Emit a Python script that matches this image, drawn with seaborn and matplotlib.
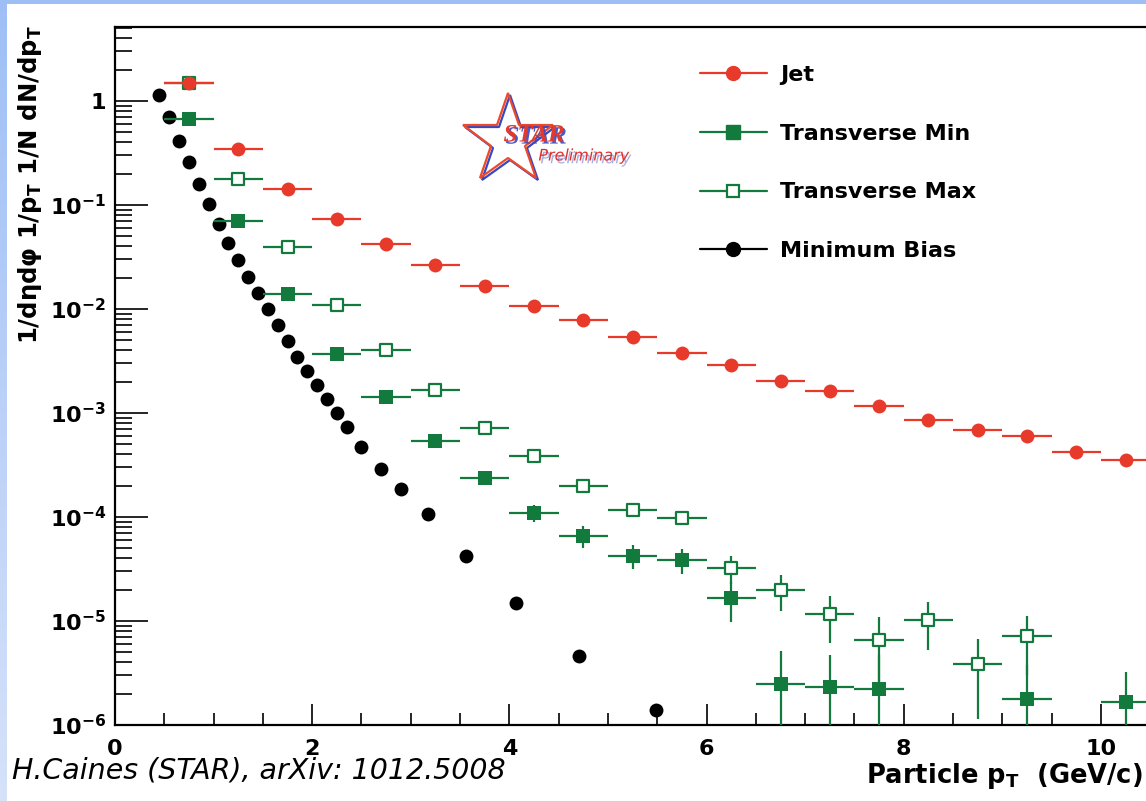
import numpy as np
import matplotlib
matplotlib.use("Agg")
import matplotlib.pyplot as plt
import matplotlib.ticker as mticker
import matplotlib.patheffects as pe
from matplotlib.lines import Line2D
import seaborn as sns

# ---------------------------------------------------------------- data
# Minimum-bias spectrum (no visible x error bars)
mb_pt = [0.45, 0.55, 0.65, 0.75, 0.85, 0.95, 1.05, 1.15, 1.25, 1.35,
         1.45, 1.55, 1.65, 1.75, 1.85, 1.95, 2.05, 2.15, 2.25, 2.35,
         2.5, 2.7, 2.9, 3.17, 3.56, 4.07, 4.71, 5.49]
mb_val = [1.15, 0.70, 0.417, 0.258, 0.160, 0.103, 0.065, 0.0433, 0.0297, 0.0202,
          0.0142, 0.0100, 0.00694, 0.00487, 0.00349, 0.00256, 0.00184, 0.00137, 0.00100, 0.00074,
          4.7e-4, 2.9e-4, 1.87e-4, 1.06e-4, 4.25e-5, 1.5e-5, 4.6e-6, 1.38e-6]

# Jet region (0.5 GeV/c bins)
jet_pt = [0.75, 1.25, 1.75, 2.25, 2.75, 3.25, 3.75, 4.25, 4.75, 5.25,
          5.75, 6.25, 6.75, 7.25, 7.75, 8.25, 8.75, 9.25, 9.75, 10.25]
jet_val = [1.48, 0.347, 0.141, 0.0726, 0.0424, 0.0262, 0.0168, 0.0108, 0.00787, 0.00536,
           0.00379, 0.0029, 0.00202, 0.00162, 0.00118, 8.5e-4, 6.9e-4, 6.0e-4, 4.26e-4, 3.57e-4]

# Transverse Min region
tmin_pt = [0.75, 1.25, 1.75, 2.25, 2.75, 3.25, 3.75, 4.25, 4.75, 5.25,
           5.75, 6.25, 6.75, 7.25, 7.75, 9.25, 10.25]
tmin_val = [0.664, 0.0699, 0.0138, 0.0037, 0.00142, 5.37e-4, 2.38e-4, 1.1e-4, 6.6e-5, 4.26e-5,
            3.9e-5, 1.67e-5, 2.5e-6, 2.3e-6, 2.2e-6, 1.78e-6, 1.65e-6]
tmin_err = [0.01, 0.0015, 0.0003, 0.0001, 4e-5, 2e-5, 1.2e-5, 2e-5, 1.6e-5, 1.1e-5,
            1.05e-5, 6.9e-6, 2.6e-6, 2.4e-6, 2.5e-6, 2.0e-6, 1.6e-6]

# Transverse Max region
tmax_pt = [0.75, 1.25, 1.75, 2.25, 2.75, 3.25, 3.75, 4.25, 4.75, 5.25,
           5.75, 6.25, 6.75, 7.25, 7.75, 8.25, 8.75, 9.25]
tmax_val = [1.48, 0.176, 0.0393, 0.011, 0.0040, 0.00167, 7.2e-4, 3.9e-4, 2.0e-4, 1.17e-4,
            9.8e-5, 3.25e-5, 2.0e-5, 1.17e-5, 6.6e-6, 1.03e-5, 3.9e-6, 7.15e-6]
tmax_err = [0.02, 0.003, 0.0008, 0.0003, 0.0001, 5e-5, 2.5e-5, 1.6e-5, 1e-5, 1.5e-5,
            1.3e-5, 1.0e-5, 7.5e-6, 5.6e-6, 4.4e-6, 5.0e-6, 2.75e-6, 4.1e-6]

bin_half_width = 0.25
y_decades = [1e-6, 1e-5, 1e-4, 1e-3, 1e-2, 1e-1, 1.0]

series_labels = ["Jet", "Transverse Min", "Transverse Max", "Minimum Bias"]
x_label = "Particle p$_\\mathbf{T}$  (GeV/c)"
y_label = "1/dηdφ 1/p$_\\mathbf{T}$ 1/N dN/dp$_\\mathbf{T}$"
footnote = "H.Caines (STAR), arXiv: 1012.5008"

# ---------------------------------------------------------------- style
sns.set_theme(style="ticks")
plt.rcParams.update({
    "font.family": ["DejaVu Sans"],
    "font.weight": "bold",
    "mathtext.fontset": "dejavusans",
    "axes.linewidth": 1.6,
    "text.color": "black",
    "axes.labelcolor": "black",
    "xtick.color": "black",
    "ytick.color": "black",
})

RED = "#e83a2b"
GREEN = "#127a3c"
BLACK = "#000000"

W, H = 1146, 801
fig = plt.figure(figsize=(W / 100, H / 100), dpi=100)
fig.patch.set_facecolor("white")

# slide frame: blue band on top and a fading band on the left
bg = np.ones((H, W, 3))
c_top = np.array([0.62, 0.75, 0.965])
c_bot = np.array([0.84, 0.885, 0.98])
t = np.linspace(0, 1, H)[:, None]
bg[:, :7, :] = (c_top * (1 - t) + c_bot * t)[:, None, :]
bg[:4, :, :] = c_top
fig.figimage(bg, xo=0, yo=0, origin="upper", zorder=-10)

# axes box: x runs past the right edge of the canvas
px_per_unit = 98.6
ax = fig.add_axes([115 / W, 76 / H, 11 * px_per_unit / W, (725 - 27) / H])
ax.patch.set_alpha(0)
ax.set_yscale("log", nonpositive="clip")
ax.set_xlim(0, 11)
ax.set_ylim(1e-6, 10 ** ((725 - 27) / 104 - 6))


def draw_series(pt, val, err, color, marker, size, face, zo):
    val = np.asarray(val)
    if err is not None:
        err = np.asarray(err)
        lo = np.minimum(err, val - 1e-9)
        ax.errorbar(pt, val, xerr=bin_half_width, yerr=[lo, err], fmt="none",
                    ecolor=color, elinewidth=1.6, capsize=0, zorder=zo - 1)
    sns.scatterplot(x=pt, y=val, marker=marker, s=size, color=face,
                    edgecolor=color, linewidth=1.6 if face == "white" else 0,
                    ax=ax, zorder=zo, legend=False)


draw_series(mb_pt, mb_val, None, BLACK, "o", 100, BLACK, 3)
draw_series(tmin_pt, tmin_val, tmin_err, GREEN, "s", 105, GREEN, 4)
draw_series(tmax_pt, tmax_val, tmax_err, GREEN, "s", 80, "white", 5)
draw_series(jet_pt, jet_val, [0.0] * len(jet_val), RED, "o", 100, RED, 7)

ax.set_xlabel("")
ax.set_ylabel("")

# ticks
ax.xaxis.set_major_locator(mticker.MultipleLocator(2))
ax.xaxis.set_minor_locator(mticker.MultipleLocator(0.5))
ax.yaxis.set_major_locator(mticker.FixedLocator(y_decades))
ax.yaxis.set_minor_locator(mticker.LogLocator(base=10, subs=np.arange(2, 10), numticks=20))
ax.yaxis.set_minor_formatter(mticker.NullFormatter())


def log_label(v, pos):
    e = int(round(np.log10(v)))
    return "1" if e == 0 else r"$\mathbf{10^{%d}}$" % e


ax.yaxis.set_major_formatter(mticker.FuncFormatter(log_label))
ax.tick_params(axis="x", which="major", direction="in", length=15, width=1.2,
               pad=10, labelsize=16, top=False, colors=BLACK)
ax.tick_params(axis="x", which="minor", direction="in", length=8.4, width=1.2, top=False)
ax.tick_params(axis="y", which="major", direction="in", length=23.8, width=1.2,
               pad=6.5, labelsize=16, right=False, colors=BLACK)
ax.tick_params(axis="y", which="minor", direction="in", length=12.2, width=1.2, right=False)
for lab in ax.get_xticklabels() + ax.get_yticklabels():
    lab.set_fontweight("bold")
for sp in ax.spines.values():
    sp.set_color(BLACK)
    sp.set_linewidth(1.6)

# legend
handles = [
    Line2D([], [], color=RED, lw=1.6, marker="o", ms=10, mfc=RED, mec=RED),
    Line2D([], [], color=GREEN, lw=1.6, marker="s", ms=10, mfc=GREEN, mec=GREEN),
    Line2D([], [], color=GREEN, lw=1.6, marker="s", ms=8.5, mfc="white", mec=GREEN, mew=1.6),
    Line2D([], [], color=BLACK, lw=1.6, marker="o", ms=10, mfc=BLACK, mec=BLACK),
]
leg = ax.legend(handles, series_labels, loc="upper left",
                bbox_to_anchor=(700 / W, 1 - 65 / H), bbox_transform=fig.transFigure,
                frameon=False, prop={"weight": "bold", "size": 16},
                handlelength=3.0, handletextpad=0.59, labelspacing=1.74,
                borderpad=0, borderaxespad=0)
for txt in leg.get_texts():
    txt.set_color(BLACK)

# axis titles
fig.text(30 / W, 1 - 25 / H, y_label, rotation=90, ha="center", va="top",
         fontsize=17.5, fontweight="bold", color=BLACK)
fig.text(1143 / W, 1 - 783 / H, x_label, ha="right", va="baseline",
         fontsize=18.5, fontweight="bold", color=BLACK)
fig.text(12 / W, 1 - 779 / H, footnote, ha="left", va="baseline",
         fontsize=20.5, fontweight="normal", fontstyle="italic", color=BLACK)

# STAR Preliminary logo
star_cx, star_cy = 508 / W, 1 - 139.5 / H
fig.add_artist(Line2D([star_cx + 2 / W], [star_cy - 2 / H], transform=fig.transFigure,
                      marker="*", ms=68, mfc="none", mec="#3848c0", mew=1.6, ls="none"))
fig.add_artist(Line2D([star_cx], [star_cy], transform=fig.transFigure,
                      marker="*", ms=68, mfc="none", mec="#ec4a2a", mew=1.6, ls="none"))
fig.text(534 / W, 1 - 135 / H, "STAR", ha="center", va="center",
         fontfamily="Liberation Serif", fontstyle="italic", fontweight="bold",
         fontsize=18, color="#e23a2c",
         path_effects=[pe.withSimplePatchShadow(offset=(1.5, -1.5),
                                                shadow_rgbFace="#3848c0", alpha=0.9)])
fig.text(584 / W, 1 - 156 / H, "Preliminary", ha="center", va="center",
         fontstyle="italic", fontweight="normal", fontsize=11.5, color="#e0302c",
         path_effects=[pe.withSimplePatchShadow(offset=(1.5, -2),
                                                shadow_rgbFace="#5060c8", alpha=0.5)])

fig.savefig("out.png", dpi=100)
